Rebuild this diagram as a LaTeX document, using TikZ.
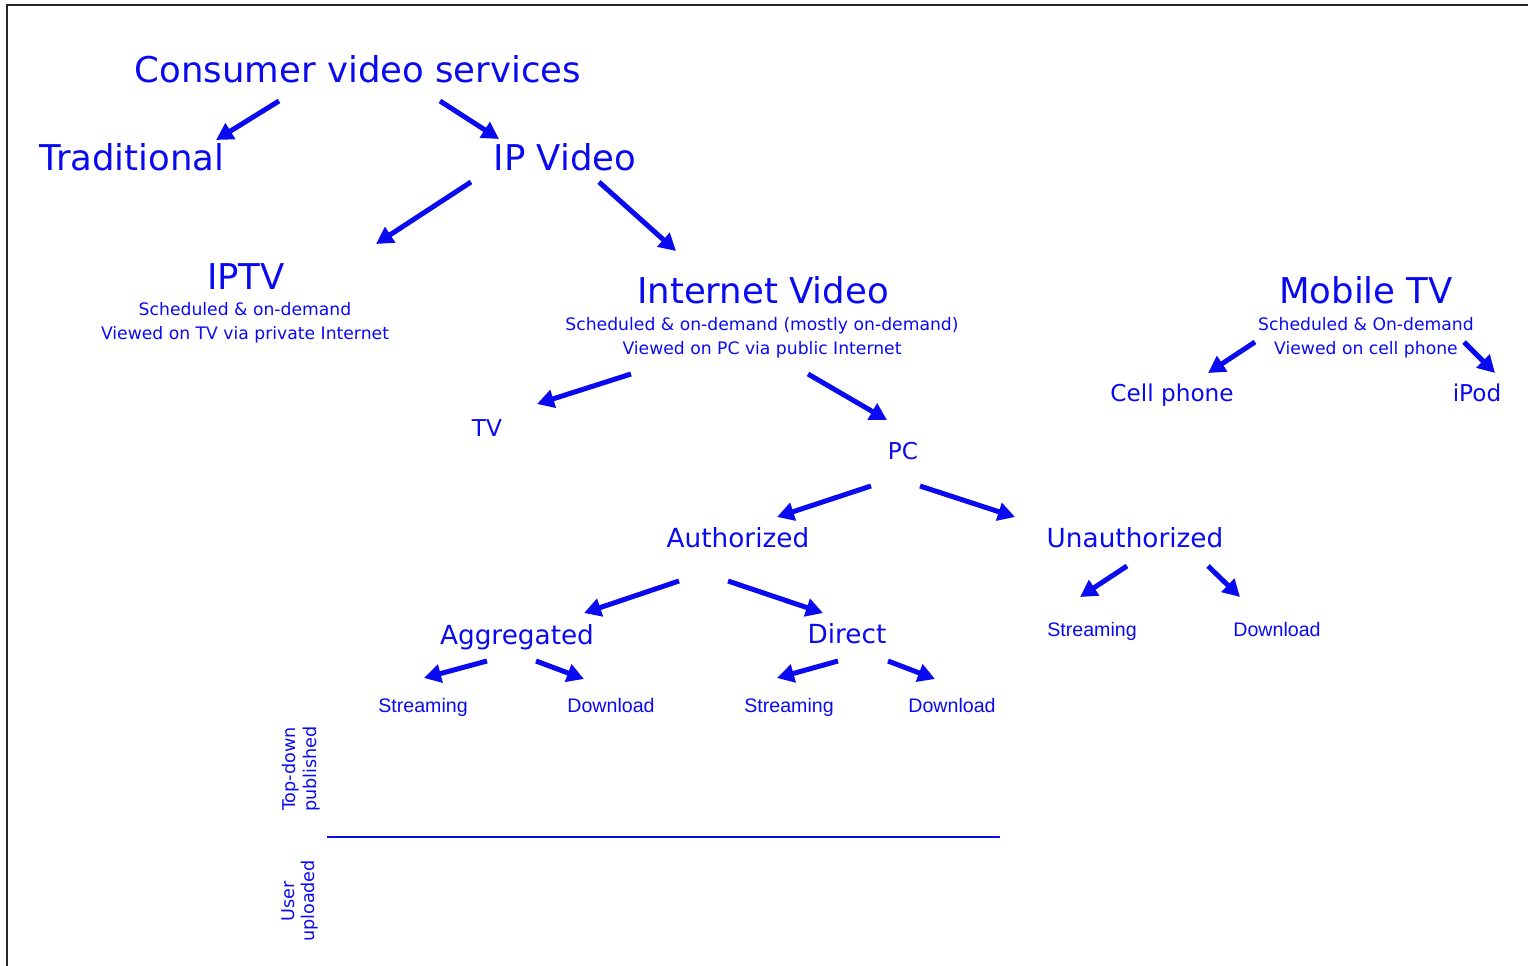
\documentclass[tikz,border=0pt]{standalone}
\usepackage{fontspec}
\setmainfont{DejaVu Sans}
\newfontfamily\narrowfont{Liberation Sans}
\usetikzlibrary{arrows.meta}
\definecolor{vblue}{RGB}{10,10,240}
\tikzset{
  big/.style={text=vblue, inner sep=0pt, font=\fontsize{35.5}{40}\selectfont},
  mid/.style={text=vblue, inner sep=0pt, font=\fontsize{26.3}{30}\selectfont},
  small/.style={text=vblue, inner sep=0pt, font=\fontsize{23.2}{27}\selectfont},
  note/.style={text=vblue, inner sep=0pt, align=center, font=\fontsize{17.2}{24}\selectfont},
  leaf/.style={text=vblue, inner sep=0pt, font=\narrowfont\fontsize{19.6}{22}\selectfont},
  side/.style={text=vblue, inner sep=0pt, align=center, rotate=90, font=\fontsize{17.6}{20.5}\selectfont},
  branch/.style={draw=vblue, line width=5pt, -{Triangle[length=17pt,width=18pt]}},
}
\begin{document}
\begin{tikzpicture}[x=1pt,y=-1pt]
\useasboundingbox (0,0) rectangle (1528,966);
% frame
\draw[line width=2pt, black!85] (7,1000) -- (7,5) -- (1560,5);

% labels
\node[big] (cvs) at (358,69) {Consumer video services};
\node[big] (trad) at (132,157) {Traditional};
\node[big] (ipv) at (565,157) {IP Video};
\node[big] (iptv) at (246,277) {IPTV};
\node[note, anchor=north] (iptvn) at (245,302) {Scheduled \& on-demand\\Viewed on TV via private Internet};
\node[big] (inet) at (763,290) {Internet Video};
\node[note, anchor=north] (inetn) at (762,317) {Scheduled \& on-demand (mostly on-demand)\\Viewed on PC via public Internet};
\node[big] (mob) at (1366,290) {Mobile TV};
\node[note, anchor=north] (mobn) at (1366,317) {Scheduled \& On-demand\\Viewed on cell phone};
\node[small] (cell) at (1172,395) {Cell phone};
\node[small] (ipod) at (1477,393) {iPod};
\node[small] (tv) at (487,428) {TV};
\node[small] (pc) at (903,451) {PC};
\node[mid] (auth) at (738,538) {Authorized};
\node[mid] (unauth) at (1135,538) {Unauthorized};
\node[mid] (agg) at (517,637) {Aggregated};
\node[mid] (dir) at (847,634) {Direct};
\node[leaf] (ustr) at (1092,631) {Streaming};
\node[leaf] (udl) at (1277,629) {Download};
\node[leaf] (astr) at (423,707) {Streaming};
\node[leaf] (adl) at (611,705) {Download};
\node[leaf] (dstr) at (789,707) {Streaming};
\node[leaf] (ddl) at (952,705) {Download};
\node[side] (top) at (301,769) {Top-down\\published};
\node[side] (user) at (300,901) {User\\uploaded};

% divider between published and uploaded content
\coordinate (divl) at (327,837);
\coordinate (divr) at (1000,837);
\draw[vblue, line width=2pt] (divl) -- (divr);

% branch arrow end points
\coordinate (a1s) at (279,101);  \coordinate (a1e) at (216,140);
\coordinate (a2s) at (440,101);  \coordinate (a2e) at (499,139);
\coordinate (a3s) at (471,182);  \coordinate (a3e) at (376,244);
\coordinate (a4s) at (599,182);  \coordinate (a4e) at (676,251);
\coordinate (a5s) at (631,374);  \coordinate (a5e) at (537,404);
\coordinate (a6s) at (808,374);  \coordinate (a6e) at (887,420);
\coordinate (a7s) at (1255,342); \coordinate (a7e) at (1208,373);
\coordinate (a8s) at (1464,342); \coordinate (a8e) at (1495,373);
\coordinate (a9s) at (871,486);  \coordinate (a9e) at (777,517);
\coordinate (a10s) at (920,486); \coordinate (a10e) at (1015,517);
\coordinate (a11s) at (679,581); \coordinate (a11e) at (584,613);
\coordinate (a12s) at (728,581); \coordinate (a12e) at (823,613);
\coordinate (a13s) at (1127,566); \coordinate (a13e) at (1080,597);
\coordinate (a14s) at (1208,566); \coordinate (a14e) at (1240,597);
\coordinate (a15s) at (487,661); \coordinate (a15e) at (424,678);
\coordinate (a16s) at (536,661); \coordinate (a16e) at (584,679);
\coordinate (a17s) at (838,661); \coordinate (a17e) at (777,678);
\coordinate (a18s) at (888,661); \coordinate (a18e) at (935,679);

\foreach \i in {1,...,18} {
  \draw[branch] (a\i s) -- (a\i e);
}
\end{tikzpicture}
\end{document}
